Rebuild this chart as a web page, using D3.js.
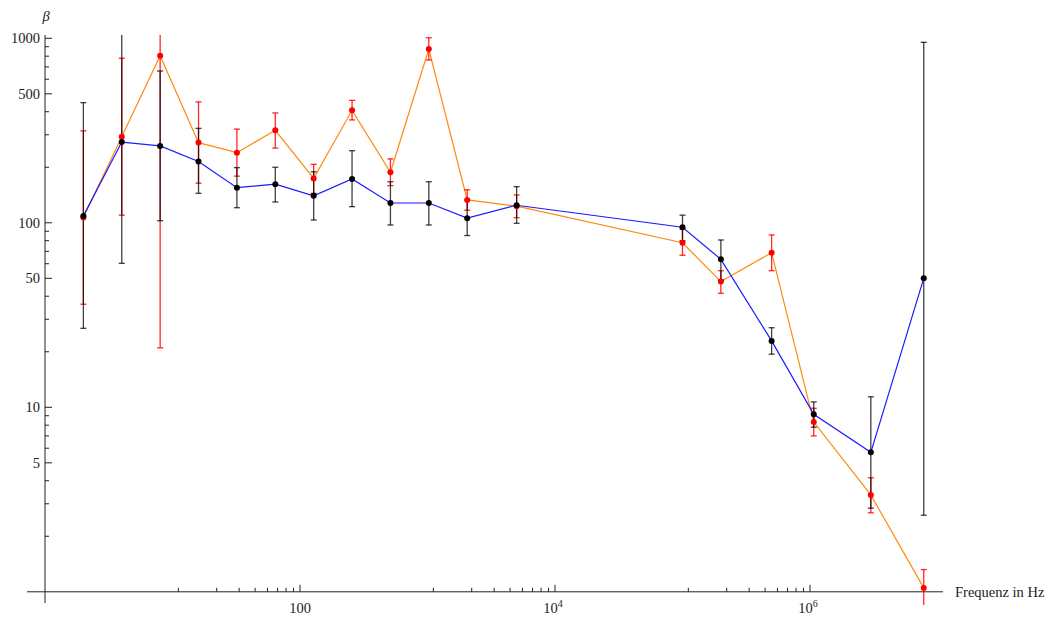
<!DOCTYPE html>
<html>
<head>
<meta charset="utf-8">
<title>beta vs Frequenz</title>
<style>
  body { margin: 0; background: #fff; }
</style>
</head>
<body>
<script src="https://d3js.org/d3.v7.min.js"></script>
<script>
// Frequencies in Hz
var freq = [2, 4, 8, 16, 32, 64, 128, 256, 512, 1024, 2048, 5000, 1e5, 2e5, 5e5, 1.07e6, 3e6, 7.8e6];

// black points / blue line
var betaBlack = [109, 274, 261, 215, 155, 162, 140, 173, 128, 128, 106, 124.5, 94.6, 63.4, 22.9, 9.16, 5.7, 50];
var blackLo   = [26.8, 60.3, 102.6, 144.5, 120.7, 129.7, 103.5, 122.3, 97.3, 97.3, 85.3, 99.4, 80, 49, 19.4, 7.8, 2.84, 2.6];
var blackHi   = [448, 1200, 665, 325, 199, 200, 189, 246, 167, 167, 133, 157, 110, 80.7, 27, 10.7, 11.4, 951];

// red points / orange line
var betaRed = [107, 293, 805, 272, 240, 317, 174, 407, 188, 875, 133, 123, 78, 48, 68.9, 8.32, 3.35, 1.05];
var redLo   = [36.2, 110, 21, 164, 179, 254, 144.5, 361, 159, 763, 117, 106.6, 66.7, 41.5, 55, 7.0, 2.68, 0.8];
var redHi   = [315, 780, 1200, 452, 322, 394, 207.5, 461, 222, 1007, 151, 141.5, 92.5, 55, 85.9, 9.88, 4.15, 1.32];

// axis ticks
var yMajor = [5, 10, 50, 100, 500, 1000];
var yLabels = ["5", "10", "50", "100", "500", "1000"];
var yMinor = [2, 3, 4, 6, 7, 8, 9, 20, 30, 40, 60, 70, 80, 90, 200, 300, 400, 600, 700, 800, 900];
var xMajor = [100, 1e4, 1e6];
var xLabelBase = ["100", "10", "10"];
var xLabelExp = ["", "4", "6"];

var W = 1049, H = 617;
var FONT = "'Liberation Serif', 'Times New Roman', 'DejaVu Serif', serif";

var x = d3.scaleLog().domain([1, 1e6]).range([45, 810]);
var y = d3.scaleLog().domain([1, 1000]).range([591.8, 38.3]);

var svg = d3.select("body").append("svg")
    .attr("width", W)
    .attr("height", H)
    .attr("font-family", FONT);

svg.append("defs").append("clipPath")
    .attr("id", "plotclip")
  .append("rect")
    .attr("x", 20).attr("y", 35)
    .attr("width", 930).attr("height", 570);

// axes lines
var axisG = svg.append("g").attr("stroke", "#222").attr("stroke-width", 1);
axisG.append("line")
    .attr("x1", 27).attr("x2", 943)
    .attr("y1", y(1)).attr("y2", y(1));
axisG.append("line")
    .attr("x1", x(1)).attr("x2", x(1))
    .attr("y1", 35).attr("y2", 603);

// y ticks (pointing right)
axisG.selectAll(".ymaj").data(yMajor).enter().append("line")
    .attr("x1", x(1)).attr("x2", x(1) + 7)
    .attr("y1", d => y(d)).attr("y2", d => y(d));
axisG.selectAll(".ymin").data(yMinor).enter().append("line")
    .attr("x1", x(1)).attr("x2", x(1) + 4)
    .attr("y1", d => y(d)).attr("y2", d => y(d));

svg.selectAll(".ylab").data(yMajor).enter().append("text")
    .attr("x", 40)
    .attr("y", d => y(d) + 5)
    .attr("text-anchor", "end")
    .attr("font-family", FONT)
    .attr("font-size", 14.5)
    .attr("fill", "#222")
    .text((d, i) => yLabels[i]);

// x ticks (pointing up); minor ones sit at major*k/9 like in the original
var xMinor = [];
xMajor.forEach(function(m) {
  for (var k = 1; k < 9; k++) xMinor.push(m * k / 9);
});
axisG.selectAll(".xmaj").data(xMajor).enter().append("line")
    .attr("x1", d => x(d)).attr("x2", d => x(d))
    .attr("y1", y(1)).attr("y2", y(1) - 7);
axisG.selectAll(".xmin").data(xMinor).enter().append("line")
    .attr("x1", d => x(d)).attr("x2", d => x(d))
    .attr("y1", y(1)).attr("y2", y(1) - 4);

var xl = svg.selectAll(".xlab").data(xMajor).enter().append("text")
    .attr("x", (d, i) => x(d) + (xLabelExp[i] ? -2 : 0))
    .attr("y", 613)
    .attr("text-anchor", "middle")
    .attr("font-family", FONT)
    .attr("font-size", 14.5)
    .attr("fill", "#222");
xl.append("tspan").text((d, i) => xLabelBase[i]);
xl.append("tspan")
    .attr("dy", -6)
    .attr("font-size", 10)
    .text((d, i) => xLabelExp[i]);

// axis titles
svg.append("text")
    .attr("x", 46).attr("y", 21)
    .attr("text-anchor", "middle")
    .attr("font-family", FONT)
    .attr("font-size", 14.5)
    .attr("font-style", "italic")
    .attr("fill", "#222")
    .text("β");
svg.append("text")
    .attr("x", 955).attr("y", 597)
    .attr("font-family", FONT)
    .attr("font-size", 14.5)
    .attr("fill", "#222")
    .text("Frequenz in Hz");

// data
var plot = svg.append("g").attr("clip-path", "url(#plotclip)");

var line = d3.line().x(d => x(d[0])).y(d => y(d[1]));

plot.append("path")
    .datum(freq.map((f, i) => [f, betaRed[i]]))
    .attr("fill", "none")
    .attr("stroke", "#ff8a10")
    .attr("stroke-width", 1.2)
    .attr("d", line);

plot.append("path")
    .datum(freq.map((f, i) => [f, betaBlack[i]]))
    .attr("fill", "none")
    .attr("stroke", "#1a1aff")
    .attr("stroke-width", 1.2)
    .attr("d", line);

function errorBars(lo, hi, color, opacity) {
  var g = plot.append("g")
      .attr("stroke", color)
      .attr("stroke-width", 1.3)
      .attr("stroke-opacity", opacity);
  freq.forEach(function(f, i) {
    var cx = x(f);
    g.append("line")
        .attr("x1", cx).attr("x2", cx)
        .attr("y1", y(lo[i])).attr("y2", y(hi[i]));
    g.append("line")
        .attr("x1", cx - 3).attr("x2", cx + 3)
        .attr("y1", y(lo[i])).attr("y2", y(lo[i]));
    g.append("line")
        .attr("x1", cx - 3).attr("x2", cx + 3)
        .attr("y1", y(hi[i])).attr("y2", y(hi[i]));
  });
}

errorBars(redLo, redHi, "#ff0000", 0.85);
errorBars(blackLo, blackHi, "#000000", 0.75);

plot.selectAll(".rp").data(freq).enter().append("circle")
    .attr("cx", d => x(d))
    .attr("cy", (d, i) => y(betaRed[i]))
    .attr("r", 3)
    .attr("fill", "#ff0000");

plot.selectAll(".bp").data(freq).enter().append("circle")
    .attr("cx", d => x(d))
    .attr("cy", (d, i) => y(betaBlack[i]))
    .attr("r", 3)
    .attr("fill", "#000000");
</script>
</body>
</html>
